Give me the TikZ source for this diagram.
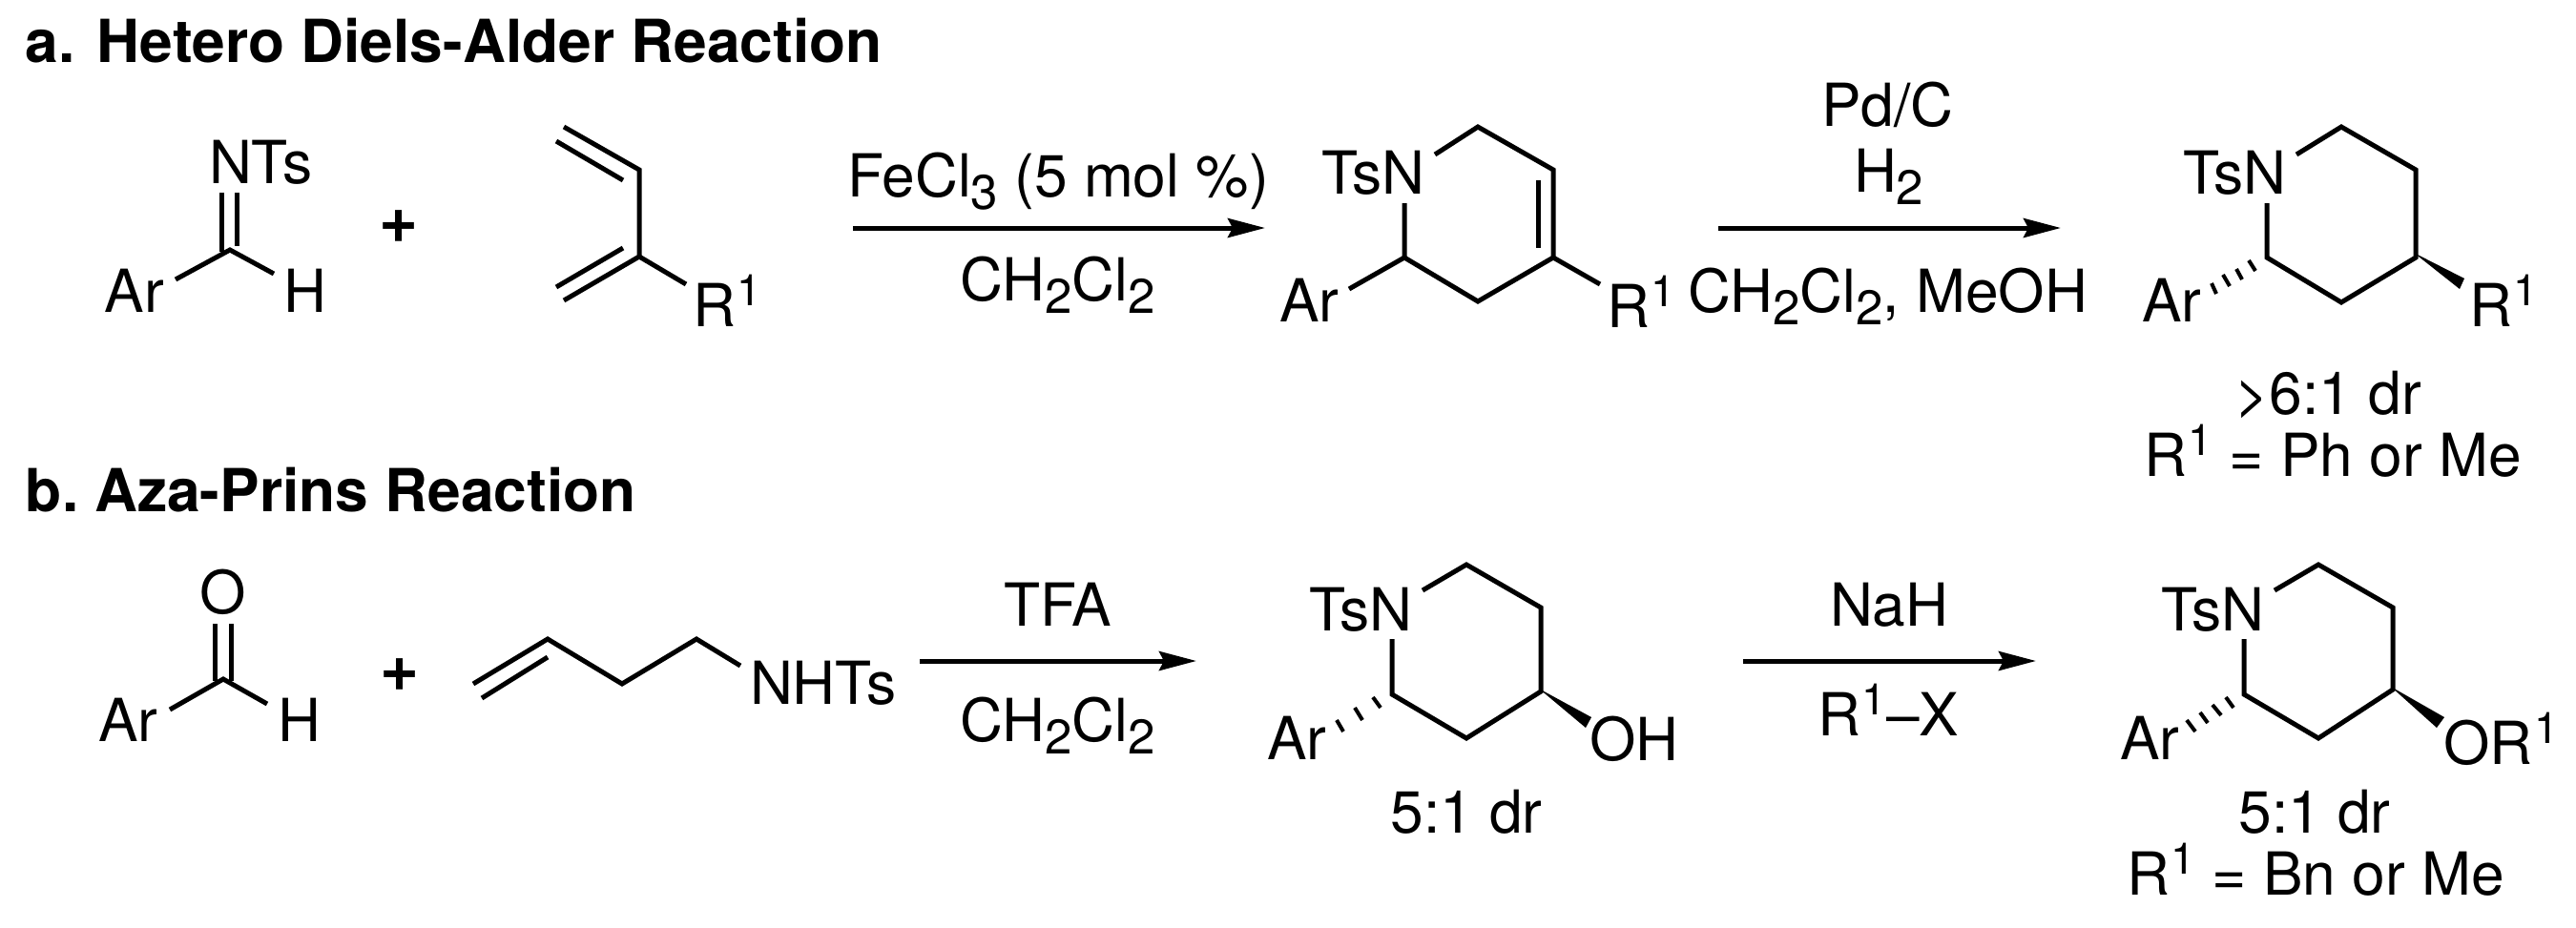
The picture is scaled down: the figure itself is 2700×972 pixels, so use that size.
\documentclass[tikz,border=0pt]{standalone}
\usepackage{fontspec}
\setmainfont{TeX Gyre Heros}
\usetikzlibrary{arrows.meta}
\newcommand{\sbb}[1]{\raisebox{-0.21em}{\fontsize{14.5}{15}\selectfont #1}}
\newcommand{\spp}[1]{\hspace{0.03em}\raisebox{0.35em}{\fontsize{13}{14}\selectfont #1}}
\tikzset{
  ctxt/.style={inner sep=0pt,outer sep=0pt,anchor=base,font=\fontsize{17.7}{20}\selectfont},
  txt/.style={ctxt,anchor=base west,xshift=-0.04cm},
  title/.style={inner sep=0pt,outer sep=0pt,anchor=base west,font=\fontsize{17.7}{20}\selectfont\bfseries},
  plus/.style={inner sep=0pt,outer sep=0pt,anchor=base,font=\fontsize{20}{22}\selectfont\bfseries},
  bond/.style={line width=0.05cm,line join=miter,line cap=butt},
  hash/.style={line width=0.04cm},
  wedge/.style={fill=black,draw=none},
  rxn/.style={line width=0.05cm,-{Stealth[length=0.39cm,width=0.2cm,inset=0.05cm]}}
}
\begin{document}
\begin{tikzpicture}[x=0.01cm,y=-0.01cm]
\useasboundingbox (0,0) rectangle (2700,972);
% titles
\node[title] (ta) at (27,65) {a. Hetero Diels-Alder Reaction};
\node[title] (tb) at (27,536) {b.\hspace{-0.1em} Aza-Prins Reaction};

% imine
\node[txt] (nts) at (223,192) {NTs};
\node[txt] (ar1) at (114,327) {Ar};
\node[txt] (h1) at (301,327) {H};
\coordinate (c1) at (241,262);
\coordinate (c1a) at (184,293);
\coordinate (c1h) at (287,287);
\coordinate (d1a) at (232.5,202);
\coordinate (d1b) at (232.5,264);
\coordinate (d1c) at (248.6,202);
\coordinate (d1d) at (248.6,258);
\draw[bond] (c1a) -- (c1) -- (c1h);
\draw[bond] (d1a) -- (d1b);
\draw[bond] (d1c) -- (d1d);
\node[plus] (p1) at (418,254) {+};

% diene
\coordinate (e1) at (591,133);
\coordinate (e2) at (670,178);
\coordinate (e3) at (670,269);
\coordinate (e4) at (591,315);
\coordinate (e5) at (719,298);
\coordinate (e1a) at (583,148);
\coordinate (e2a) at (653,189);
\coordinate (e3a) at (653,260);
\coordinate (e4a) at (583,301);
\draw[bond] (e1) -- (e2) -- (e3) -- (e4);
\draw[bond] (e3) -- (e5);
\draw[bond] (e1a) -- (e2a);
\draw[bond] (e3a) -- (e4a);
\node[txt] (r1) at (730,342) {R\spp{1}};

% arrow 1
\coordinate (a1s) at (894,239);
\coordinate (a1e) at (1326,239);
\draw[rxn] (a1s) -- (a1e);
\node[txt] (fe) at (892,206) {FeCl\sbb{3} (5 mol \%)};
\node[txt] (dcm1) at (1010,315) {CH\sbb{2}Cl\sbb{2}};

% tetrahydropyridine
\node[txt] (tsn1) at (1389,203) {TsN};
\node[txt] (ar2) at (1345,337) {Ar};
\node[txt] (r2) at (1688,343) {R\spp{1}};
\coordinate (f0) at (1504,162);
\coordinate (f1) at (1549,133);
\coordinate (f2) at (1628,178);
\coordinate (f3) at (1628,270);
\coordinate (f4) at (1549,316);
\coordinate (f5) at (1472,270);
\coordinate (f6) at (1472,213);
\coordinate (f7) at (1414,303);
\coordinate (f8) at (1677,298);
\coordinate (f2a) at (1612,189);
\coordinate (f3a) at (1612,260);
\draw[bond] (f0) -- (f1) -- (f2) -- (f3) -- (f4) -- (f5) -- (f6);
\draw[bond] (f5) -- (f7);
\draw[bond] (f3) -- (f8);
\draw[bond] (f2a) -- (f3a);

% arrow 2
\coordinate (a2s) at (1801,239);
\coordinate (a2e) at (2160,239);
\draw[rxn] (a2s) -- (a2e);
\node[txt] (pd) at (1913,132) {Pd/C};
\node[txt] (h2) at (1947,201) {H\sbb{2}};
\node[txt] (dcm2) at (1773,327) {CH\sbb{2}Cl\sbb{2}, MeOH};

% piperidine a
\node[txt] (tsn2) at (2292,203) {TsN};
\node[txt] (ar3) at (2249,337) {Ar};
\node[txt] (r3) at (2592,342) {R\spp{1}};
\coordinate (g0) at (2407,162);
\coordinate (g1) at (2454,133);
\coordinate (g2) at (2532,178);
\coordinate (g3) at (2532,270);
\coordinate (g4) at (2454,317);
\coordinate (g5) at (2376,270);
\coordinate (g6) at (2376,213);
\draw[bond] (g0) -- (g1) -- (g2) -- (g3) -- (g4) -- (g5) -- (g6);
\fill[wedge] (2530,265) -- (2583,292) -- (2578,303) -- cycle;
\draw[hash] (2357,273) -- (2364,284);
\draw[hash] (2344,282) -- (2350,293);
\draw[hash] (2330,288) -- (2337,300);
\draw[hash] (2318,297) -- (2323,308);
\node[ctxt] (dr1) at (2440,434) {>6:1 dr};
\node[ctxt] (sc1) at (2445,499) {R\spp{1} = Ph or Me};

% aldehyde
\node[ctxt] (o1) at (234,643) {O};
\node[txt] (ar4) at (107,777) {Ar};
\node[txt] (h3) at (295,777) {H};
\coordinate (c2) at (234,712);
\coordinate (c2a) at (178,744);
\coordinate (c2h) at (280,738);
\coordinate (d2a) at (225,654);
\coordinate (d2b) at (225,714);
\coordinate (d2c) at (242,654);
\coordinate (d2d) at (242,714);
\draw[bond] (c2a) -- (c2) -- (c2h);
\draw[bond] (d2a) -- (d2b);
\draw[bond] (d2c) -- (d2d);
\node[plus] (p2) at (419,724) {+};

% homoallyl sulfonamide
\coordinate (k1) at (496,717);
\coordinate (k2) at (574,670);
\coordinate (k3) at (652,717);
\coordinate (k4) at (730,670);
\coordinate (k5) at (776,698);
\coordinate (k1a) at (505,732);
\coordinate (k2a) at (574,689);
\draw[bond] (k1) -- (k2) -- (k3) -- (k4) -- (k5);
\draw[bond] (k1a) -- (k2a);
\node[txt] (nhts) at (790,738) {NHTs};

% arrow 3
\coordinate (a3s) at (964,693);
\coordinate (a3e) at (1254,693);
\draw[rxn] (a3s) -- (a3e);
\node[txt] (tfa) at (1056,656) {TFA};
\node[txt] (dcm3) at (1010,777) {CH\sbb{2}Cl\sbb{2}};

% piperidinol
\node[txt] (tsn3) at (1376,661) {TsN};
\node[txt] (ar5) at (1332,796) {Ar};
\node[txt] (oh) at (1670,797) {OH};
\coordinate (m0) at (1491,619);
\coordinate (m1) at (1537,592);
\coordinate (m2) at (1615,637);
\coordinate (m3) at (1615,725);
\coordinate (m4) at (1537,774);
\coordinate (m5) at (1459,728);
\coordinate (m6) at (1459,670);
\draw[bond] (m0) -- (m1) -- (m2) -- (m3) -- (m4) -- (m5) -- (m6);
\fill[wedge] (1613,722) -- (1668,752) -- (1662,763) -- cycle;
\draw[hash] (1439,731) -- (1447,742);
\draw[hash] (1420,742) -- (1428,755);
\draw[hash] (1401,755) -- (1408,767);
\node[ctxt] (dr2) at (1537,873) {5:1 dr};

% arrow 4
\coordinate (a4s) at (1827,693);
\coordinate (a4e) at (2134,693);
\draw[rxn] (a4s) -- (a4e);
\node[txt] (nah) at (1922,656) {NaH};
\node[txt] (rx) at (1909,771) {R\spp{1}–X};

% piperidine ether
\node[txt] (tsn4) at (2269,661) {TsN};
\node[txt] (ar6) at (2226,796) {Ar};
\node[txt] (or) at (2565,801) {OR\spp{1}};
\coordinate (n0) at (2384,619);
\coordinate (n1) at (2430,592);
\coordinate (n2) at (2508,637);
\coordinate (n3) at (2508,723);
\coordinate (n4) at (2430,774);
\coordinate (n5) at (2352,728);
\coordinate (n6) at (2352,670);
\draw[bond] (n0) -- (n1) -- (n2) -- (n3) -- (n4) -- (n5) -- (n6);
\fill[wedge] (2506,720) -- (2562,752) -- (2554,763) -- cycle;
\draw[hash] (2333,731) -- (2341,742);
\draw[hash] (2319,739) -- (2328,750);
\draw[hash] (2306,747) -- (2314,758);
\draw[hash] (2292,755) -- (2301,767);
\node[ctxt] (dr3) at (2426,873) {5:1 dr};
\node[ctxt] (sc2) at (2427,938) {R\spp{1} = Bn or Me};
\end{tikzpicture}
\end{document}
